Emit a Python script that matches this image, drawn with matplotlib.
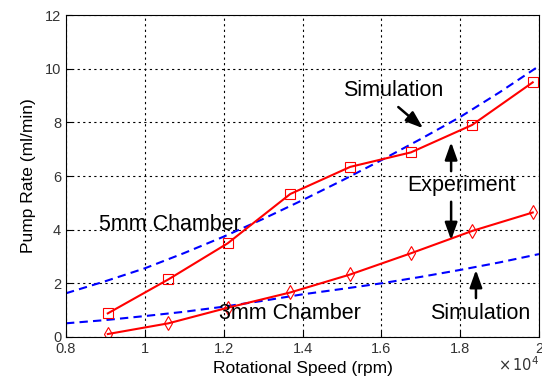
import matplotlib.pyplot as plt
from matplotlib.ticker import FuncFormatter

plt.rcParams['font.family'] = ['Liberation Sans', 'DejaVu Sans']

# experiment points (rpm, ml/min)
rpm_exp = [9060, 10600, 12100, 13690, 15210, 16750, 18300, 19840]
exp_5mm = [0.88, 2.15, 3.49, 5.33, 6.34, 6.88, 7.90, 9.49]
exp_3mm = [0.11, 0.51, 1.09, 1.66, 2.33, 3.12, 3.95, 4.64]

# simulation curves
rpm_sim = [8000, 9000, 10000, 11000, 12000, 13000, 14000, 15000, 16000, 17000, 18000, 19000, 20000]
sim_5mm = [1.63, 2.08, 2.56, 3.13, 3.74, 4.40, 5.10, 5.83, 6.59, 7.38, 8.20, 9.12, 10.10]
sim_3mm = [0.51, 0.63, 0.78, 0.94, 1.13, 1.35, 1.59, 1.79, 2.00, 2.24, 2.50, 2.78, 3.09]

fig = plt.figure(figsize=(5.42, 3.81), dpi=100)
ax = fig.add_axes([0.1218, 0.1155, 0.8727, 0.8451])

ax.plot(rpm_sim, sim_5mm, '--', color='blue', lw=1.5, dashes=(4, 2.5))
ax.plot(rpm_sim, sim_3mm, '--', color='blue', lw=1.5, dashes=(4, 2.5))
ax.plot(rpm_exp, exp_5mm, '-s', color='red', lw=1.5, ms=7, mfc='none', mew=0.8)
ax.plot(rpm_exp, exp_3mm, '-d', color='red', lw=1.5, ms=7, mfc='none', mew=0.8)

ax.set_xlim(8000, 20000)
ax.set_ylim(0, 12)
ax.set_xticks([8000, 10000, 12000, 14000, 16000, 18000, 20000])
ax.set_yticks(range(0, 13, 2))
ax.xaxis.set_major_formatter(FuncFormatter(lambda v, p: f'{v / 1e4:g}'))
ax.grid(True, linestyle=(0, (2, 3)), color='black', lw=0.8)
ax.tick_params(direction='in', labelsize=10.5, labelcolor='#333333', length=4)
for s in ax.spines.values():
    s.set_linewidth(0.8)

ax.set_xlabel('Rotational Speed (rpm)', fontsize=12.5, labelpad=4)
ax.set_ylabel('Pump Rate (ml/min)', fontsize=12.5, labelpad=6)
fig.text(0.995, 0.018, r'$\times\,10^4$', ha='right', va='bottom', fontsize=10.5,
         color='#333333')

fs = 15.5
arr = dict(arrowstyle='-|>,head_length=0.7,head_width=0.25', color='black',
           lw=1.8, mutation_scale=15, shrinkA=0, shrinkB=0)
ax.text(8840, 4.21, '5mm Chamber', fontsize=fs, va='center')
ax.text(11880, 0.89, '3mm Chamber', fontsize=fs, va='center')
ax.text(16300, 9.2, 'Simulation', fontsize=fs, ha='center', va='center')
ax.annotate('', xy=(17060, 7.78), xytext=(16430, 8.57), arrowprops=arr)
ax.text(18025, 5.66, 'Experiment', fontsize=fs, ha='center', va='center')
ax.annotate('', xy=(17770, 7.26), xytext=(17770, 6.18), arrowprops=arr)
ax.annotate('', xy=(17770, 3.61), xytext=(17770, 5.04), arrowprops=arr)
ax.text(18500, 0.89, 'Simulation', fontsize=fs, ha='center', va='center')
ax.annotate('', xy=(18400, 2.5), xytext=(18400, 1.45), arrowprops=arr)

fig.savefig('out.png', dpi=100)
